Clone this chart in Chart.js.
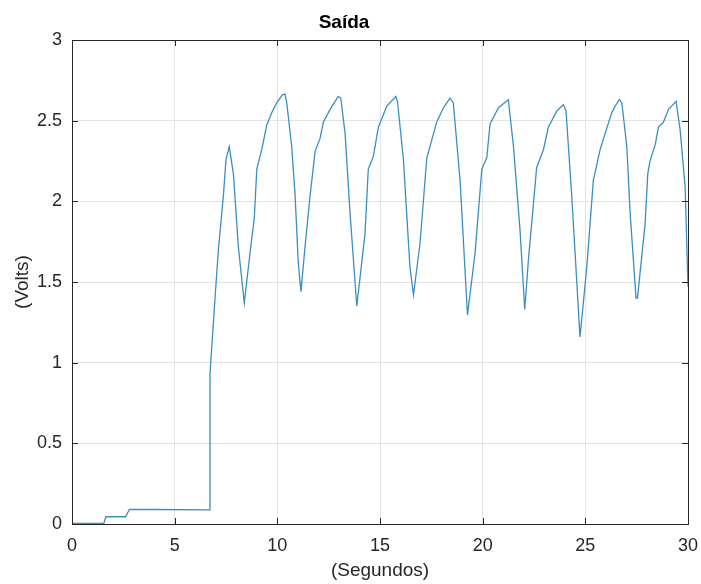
<!DOCTYPE html>
<html>
<head>
<meta charset="utf-8">
<script src="https://cdn.jsdelivr.net/npm/chart.js@4.4.1/dist/chart.umd.min.js"></script>
<style>
  html, body { margin: 0; padding: 0; background: #fff; }
  #wrap { width: 701px; height: 584px; }
</style>
</head>
<body>
<div id="wrap"><canvas id="saidaChart" width="701" height="584"></canvas></div>
<script>
// Tempo (s) e tensão (V)
const tempo = [
  0, 1.55, 1.65, 2.6, 2.8, 4.0, 6.68, 6.72, 6.97, 7.13, 7.37, 7.50, 7.66, 7.86, 8.10, 8.39,
  8.67, 8.88, 9.0, 9.24, 9.48, 9.73, 9.97, 10.25, 10.37, 10.46, 10.70, 10.86, 11.02, 11.15,
  11.35, 11.59, 11.84, 12.08, 12.24, 12.57, 12.81, 12.97, 13.09, 13.30, 13.54, 13.87,
  14.27, 14.43, 14.68, 14.92, 15.33, 15.77, 15.85, 16.14, 16.46, 16.63,
  16.95, 17.28, 17.76, 18.09, 18.41, 18.57, 18.9, 19.26,
  19.63, 19.96, 20.2, 20.36, 20.77, 21.25, 21.5, 21.82, 22.05,
  22.23, 22.63, 22.96, 23.2, 23.61, 23.93, 24.06, 24.34, 24.74,
  25.07, 25.39, 25.72, 25.96, 26.29, 26.45, 26.66, 26.78, 27.02, 27.18, 27.47, 27.54,
  27.91, 28.04, 28.15, 28.40, 28.56, 28.80, 29.05, 29.42, 29.62, 29.86, 30
];
const volts = [
  0.003, 0.003, 0.045, 0.045, 0.09, 0.09, 0.087, 0.93, 1.41, 1.70, 2.03, 2.26, 2.34, 2.17, 1.72, 1.37,
  1.68, 1.90, 2.20, 2.32, 2.47, 2.55, 2.61, 2.66, 2.665, 2.61, 2.34, 2.05, 1.62, 1.44,
  1.72, 2.03, 2.31, 2.39, 2.49, 2.57, 2.62, 2.65, 2.64, 2.42, 1.93, 1.35,
  1.80, 2.20, 2.28, 2.46, 2.59, 2.65, 2.62, 2.26, 1.59, 1.42,
  1.74, 2.27, 2.49, 2.58, 2.64, 2.61, 2.13, 1.295,
  1.68, 2.20, 2.27, 2.48, 2.58, 2.63, 2.34, 1.82, 1.33,
  1.64, 2.21, 2.32, 2.46, 2.56, 2.60, 2.56, 2.03, 1.16,
  1.59, 2.13, 2.32, 2.42, 2.55, 2.59, 2.63, 2.61, 2.34, 1.93, 1.40, 1.40,
  1.86, 2.17, 2.25, 2.35, 2.46, 2.49, 2.57, 2.62, 2.44, 2.09, 1.47
];
const xTicks = [0, 5, 10, 15, 20, 25, 30];
const yTicks = [0, 0.5, 1, 1.5, 2, 2.5, 3];

const axisColor = '#262626';
const gridColor = '#e3e3e3';
const fontFamily = '"Liberation Sans", Arial, Helvetica, sans-serif';

// caixa completa e marcas de escala para dentro (estilo MATLAB)
const boxTicks = {
  id: 'boxTicks',
  afterDatasetsDraw(chart) {
    const { ctx, chartArea: a, scales } = chart;
    const len = 6;
    ctx.save();
    ctx.strokeStyle = axisColor;
    ctx.lineWidth = 1;
    ctx.beginPath();
    xTicks.forEach(v => {
      const px = Math.round(scales.x.getPixelForValue(v)) + 0.5;
      ctx.moveTo(px, a.bottom); ctx.lineTo(px, a.bottom - len);
      ctx.moveTo(px, a.top); ctx.lineTo(px, a.top + len);
    });
    yTicks.forEach(v => {
      const py = Math.round(scales.y.getPixelForValue(v)) + 0.5;
      ctx.moveTo(a.left, py); ctx.lineTo(a.left + len, py);
      ctx.moveTo(a.right, py); ctx.lineTo(a.right - len, py);
    });
    ctx.stroke();
    ctx.strokeRect(Math.round(a.left) + 0.5, Math.round(a.top) + 0.5,
      Math.round(a.right - a.left), Math.round(a.bottom - a.top));
    ctx.restore();
  }
};

const ctx = document.getElementById('saidaChart').getContext('2d');
new Chart(ctx, {
  type: 'line',
  data: {
    datasets: [{
      data: tempo.map((t, i) => ({ x: t, y: volts[i] })),
      borderColor: '#3a8fc2',
      borderWidth: 1.3,
      pointRadius: 0,
      tension: 0,
      fill: false
    }]
  },
  options: {
    responsive: false,
    animation: false,
    events: [],
    layout: { padding: { left: 0, right: 13, top: 0, bottom: 0 } },
    plugins: {
      legend: { display: false },
      tooltip: { enabled: false },
      title: {
        display: true,
        text: 'Saída',
        color: '#000',
        font: { family: fontFamily, size: 19, weight: 'bold', lineHeight: 1.2 },
        padding: { top: 11.5, bottom: 5.7 }
      }
    },
    scales: {
      x: {
        type: 'linear',
        min: 0,
        max: 30,
        afterFit(scale) {
          scale.height = 60;
          scale.paddingLeft = 0;
          scale.paddingRight = 0;
        },
        afterBuildTicks(scale) { scale.ticks = xTicks.map(v => ({ value: v })); },
        grid: { color: gridColor, drawTicks: false },
        border: { display: false },
        ticks: { color: axisColor, padding: 11, maxRotation: 0, font: { family: fontFamily, size: 18 },
          callback: v => String(v) },
        title: {
          display: true,
          text: '(Segundos)',
          color: axisColor,
          font: { family: fontFamily, size: 19, lineHeight: 1.2 },
          padding: { top: 0, bottom: 2 }
        }
      },
      y: {
        type: 'linear',
        min: 0,
        max: 3,
        afterFit(scale) { scale.width = 72; },
        afterBuildTicks(scale) { scale.ticks = yTicks.map(v => ({ value: v })); },
        grid: { color: gridColor, drawTicks: false },
        border: { display: false },
        ticks: { color: axisColor, padding: 10, font: { family: fontFamily, size: 18 },
          callback: v => String(v) },
        title: {
          display: true,
          text: '(Volts)',
          color: axisColor,
          font: { family: fontFamily, size: 19, lineHeight: 1.2 },
          padding: { top: 11.5, bottom: 0 }
        }
      }
    }
  },
  plugins: [boxTicks]
});
</script>
</body>
</html>
